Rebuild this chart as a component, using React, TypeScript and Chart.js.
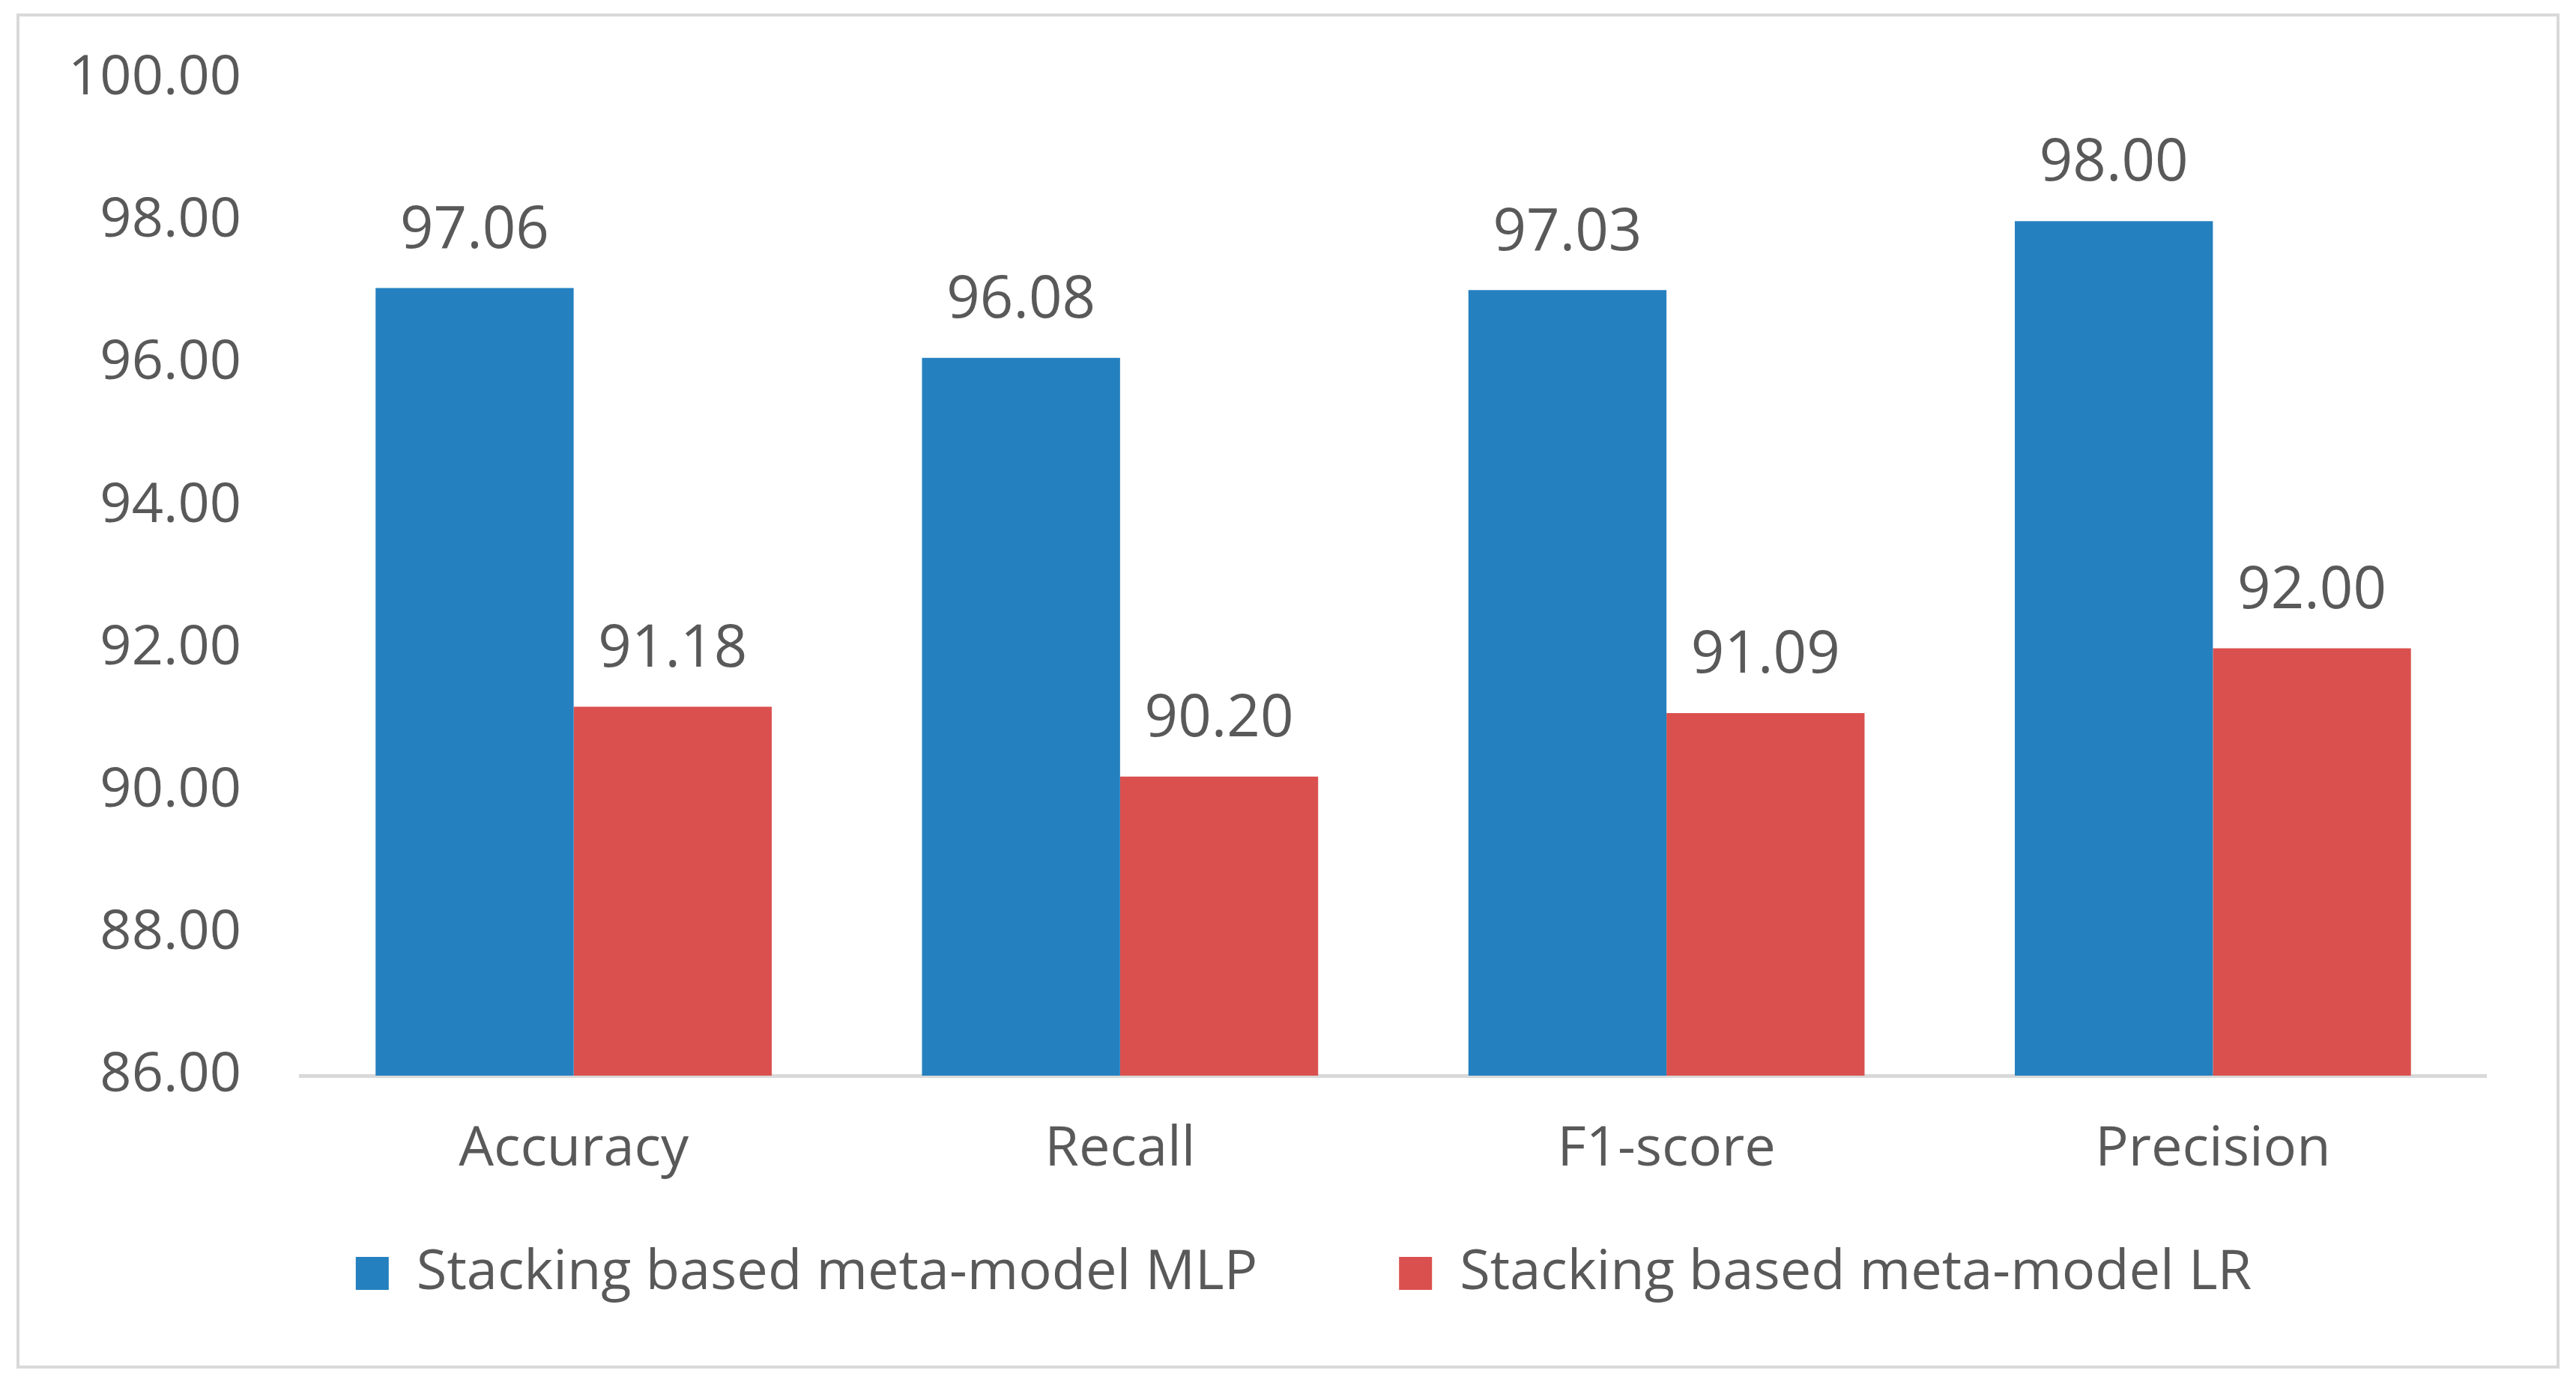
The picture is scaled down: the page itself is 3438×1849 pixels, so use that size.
import React, { useEffect, useRef } from 'react';
import { Chart, registerables } from 'chart.js';

Chart.register(...registerables);

const categories = ['Accuracy', 'Recall', 'F1-score', 'Precision'];
const mlpValues = [97.06, 96.08, 97.03, 98.0];
const lrValues = [91.18, 90.2, 91.09, 92.0];
const seriesNames = ['Stacking based meta-model MLP', 'Stacking based meta-model LR'];

const FONT = "'Open Sans', 'Noto Sans', sans-serif";
const TEXT = '#595959';

// draws the value above each bar
const valueLabels = {
  id: 'valueLabels',
  afterDatasetsDraw(chart: any) {
    const ctx = chart.ctx;
    ctx.save();
    ctx.font = `78px ${FONT}`;
    ctx.fillStyle = TEXT;
    ctx.textAlign = 'center';
    ctx.textBaseline = 'middle';
    chart.data.datasets.forEach((ds: any, i: number) => {
      chart.getDatasetMeta(i).data.forEach((bar: any, j: number) => {
        ctx.fillText(Number(ds.data[j]).toFixed(2), bar.x, bar.y - 76);
      });
    });
    ctx.restore();
  }
};

// centre the legend on the whole picture rather than the chart box
const legendShift = {
  id: 'legendShift',
  afterLayout(chart: any) {
    if (chart.legend) chart.legend.left = 136;
  }
};

const App = () => {
  const chartRef = useRef<HTMLCanvasElement>(null);

  useEffect(() => {
    document.body.style.margin = '0';
    if (!chartRef.current) return;
    const chart = new Chart(chartRef.current, {
      type: 'bar',
      data: {
        labels: categories,
        datasets: [
          {
            label: seriesNames[0],
            data: mlpValues,
            backgroundColor: '#2580BF',
            borderWidth: 0,
            categoryPercentage: 0.725,
            barPercentage: 1.0
          },
          {
            label: seriesNames[1],
            data: lrValues,
            backgroundColor: '#DA504E',
            borderWidth: 0,
            categoryPercentage: 0.725,
            barPercentage: 1.0
          }
        ]
      },
      options: {
        animation: false,
        responsive: true,
        maintainAspectRatio: false,
        layout: {
          padding: { top: 83, left: 0, right: 94, bottom: 76 }
        },
        plugins: {
          legend: {
            position: 'bottom',
            labels: {
              boxWidth: 44,
              boxHeight: 44,
              padding: 189,
              color: TEXT,
              font: { family: FONT, size: 74 }
            }
          },
          tooltip: { enabled: false }
        },
        scales: {
          x: {
            grid: { display: false, drawTicks: false },
            border: { display: true, color: '#D9D9D9', width: 5 },
            ticks: {
              color: TEXT,
              // mirrored so the labels are not clipped to the short axis box
              mirror: true,
              padding: -143,
              font: { family: FONT, size: 74 }
            },
            afterFit: (scale: any) => {
              scale.height = 38;
            }
          },
          y: {
            min: 86,
            max: 100,
            grid: { display: false, drawTicks: false },
            border: { display: false },
            ticks: {
              stepSize: 2,
              color: TEXT,
              padding: 79,
              font: { family: FONT, size: 74 },
              callback: (v: any) => Number(v).toFixed(2)
            },
            afterFit: (scale: any) => {
              scale.width = 375;
              scale.paddingTop = 0;
              scale.paddingBottom = 0;
            }
          }
        }
      },
      plugins: [valueLabels, legendShift]
    });
    return () => {
      chart.destroy();
    };
  }, []);

  return (
    <div style={{ position: 'relative', width: 3438, height: 1849, background: '#fff' }}>
      <div
        style={{
          position: 'absolute',
          left: 22,
          top: 18,
          width: 3394,
          height: 1809,
          boxSizing: 'border-box',
          border: '4px solid #D9D9D9'
        }}
      />
      <div style={{ position: 'absolute', left: 26, top: 22, width: 3386, height: 1801 }}>
        <canvas ref={chartRef} />
      </div>
    </div>
  );
};

export default App;
